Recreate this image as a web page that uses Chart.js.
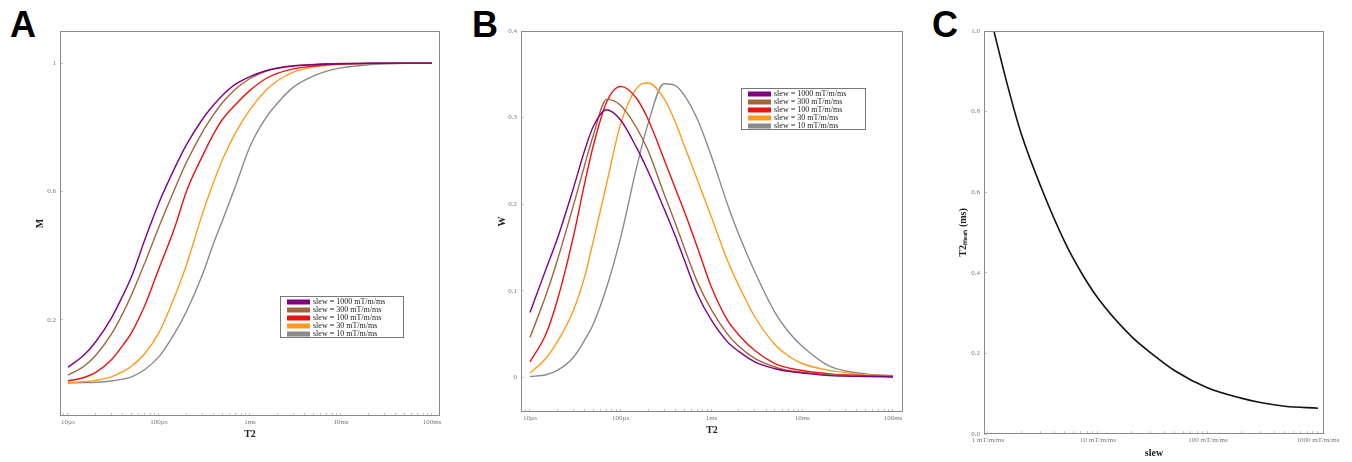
<!DOCTYPE html>
<html>
<head>
<meta charset="utf-8">
<script src="https://cdn.jsdelivr.net/npm/chart.js@4.4.1/dist/chart.umd.min.js"></script>
<style>
  body { margin: 0; background: #fff; width: 1352px; height: 462px; position: relative; overflow: hidden; }
  .painel { position: absolute; top: 0; }
  .letra { position: absolute; top: 7px; font: bold 36px 'Liberation Sans', Arial, sans-serif; line-height: 1; color: #000; }
</style>
</head>
<body>
<div class="letra" style="left:10px">A</div>
<div class="letra" style="left:472px">B</div>
<div class="letra" style="left:932px">C</div>
<canvas class="painel" id="graficoA" width="450" height="462" style="left:0"></canvas>
<canvas class="painel" id="graficoB" width="460" height="462" style="left:450px"></canvas>
<canvas class="painel" id="graficoC" width="442" height="462" style="left:910px"></canvas>
<script>
// Tempos T2 (ms) usados nos painéis A e B
const t2 = [0.01, 0.015, 0.02, 0.03, 0.04, 0.05, 0.07, 0.1, 0.15, 0.2, 0.3, 0.4, 0.5, 0.7, 1, 1.5, 2, 3, 5, 7, 10, 20, 50, 100];

// Rótulos das curvas
const rotulosSlew = ['slew = 1000 mT/m/ms', 'slew = 300 mT/m/ms', 'slew = 100 mT/m/ms', 'slew = 30 mT/m/ms', 'slew = 10 mT/m/ms'];
const cores = ['#800080', '#a0653a', '#ee1111', '#ff9a1a', '#8a8a8a'];

// Painel A: M
const m1000 = [0.052, 0.090, 0.130, 0.205, 0.275, 0.335, 0.45, 0.565, 0.675, 0.745, 0.825, 0.870, 0.900, 0.935, 0.958, 0.976, 0.984, 0.991, 0.995, 0.997, 0.998, 0.999, 1.0, 1.0];
const m300 = [0.027, 0.055, 0.088, 0.155, 0.22, 0.278, 0.378, 0.49, 0.61, 0.69, 0.785, 0.84, 0.877, 0.92, 0.952, 0.975, 0.985, 0.992, 0.996, 0.998, 0.999, 1.0, 1.0, 1.0];
const m100 = [0.009, 0.02, 0.035, 0.075, 0.12, 0.16, 0.245, 0.36, 0.49, 0.60, 0.71, 0.78, 0.825, 0.872, 0.915, 0.952, 0.968, 0.982, 0.991, 0.995, 0.997, 0.999, 1.0, 1.0];
const m30 = [0.004, 0.007, 0.011, 0.022, 0.038, 0.055, 0.095, 0.16, 0.275, 0.37, 0.53, 0.63, 0.70, 0.785, 0.855, 0.915, 0.945, 0.972, 0.988, 0.993, 0.996, 0.999, 1.0, 1.0];
const m10 = [0.003, 0.004, 0.005, 0.009, 0.015, 0.022, 0.045, 0.085, 0.16, 0.225, 0.34, 0.44, 0.51, 0.62, 0.74, 0.83, 0.875, 0.925, 0.96, 0.975, 0.985, 0.995, 0.999, 1.0];

// Painel B: W
const w1000 = [0.075, 0.125, 0.160, 0.218, 0.262, 0.290, 0.309, 0.297, 0.265, 0.238, 0.195, 0.163, 0.136, 0.096, 0.066, 0.041, 0.030, 0.018, 0.010, 0.007, 0.005, 0.002, 0.001, 0.0005];
const w300 = [0.046, 0.095, 0.135, 0.198, 0.245, 0.280, 0.321, 0.314, 0.288, 0.262, 0.212, 0.178, 0.150, 0.110, 0.078, 0.050, 0.036, 0.022, 0.012, 0.008, 0.006, 0.003, 0.0015, 0.001];
const w100 = [0.018, 0.050, 0.089, 0.162, 0.224, 0.268, 0.318, 0.336, 0.322, 0.298, 0.252, 0.218, 0.192, 0.150, 0.104, 0.066, 0.049, 0.031, 0.016, 0.011, 0.008, 0.004, 0.002, 0.001];
const w30 = [0.005, 0.022, 0.041, 0.077, 0.116, 0.158, 0.224, 0.293, 0.334, 0.340, 0.322, 0.295, 0.268, 0.228, 0.185, 0.135, 0.106, 0.070, 0.038, 0.025, 0.016, 0.008, 0.003, 0.001];
const w10 = [0.001, 0.003, 0.008, 0.023, 0.043, 0.062, 0.104, 0.162, 0.243, 0.293, 0.339, 0.337, 0.326, 0.298, 0.255, 0.200, 0.165, 0.122, 0.075, 0.053, 0.036, 0.013, 0.004, 0.002];

// Painel C: T2 em função do slew
const slew = [1, 1.5, 2, 3, 5, 7, 10, 20, 30, 50, 100, 200, 300, 500, 1000];
const t2Slew = [1.06, 0.867, 0.746, 0.616, 0.476, 0.402, 0.337, 0.243, 0.202, 0.157, 0.114, 0.089, 0.078, 0.069, 0.064];

// Marcas dos eixos
const ticksT2 = [0.01, 0.1, 1, 10, 100];
const rotulosT2 = ['10µs', '100µs', '1ms', '10ms', '100ms'];
const ticksSlew = [1, 10, 100, 1000];
const rotulosSlewEixo = ['1 mT/m/ms', '10 mT/m/ms', '100 mT/m/ms', '1000 mT/m/ms'];
const ticksM = [0.2, 0.6, 1];
const rotulosM = ['0.2', '0.6', '1'];
const ticksW = [0, 0.1, 0.2, 0.3, 0.4];
const rotulosW = ['0', '0.1', '0.2', '0.3', '0.4'];
const ticksC = [0, 0.2, 0.4, 0.6, 0.8, 1.0];
const rotulosC = ['0.0', '0.2', '0.4', '0.6', '0.8', '1.0'];

const serif = "'Liberation Serif', 'Times New Roman', serif";

// Moldura cinza em volta da área do gráfico
const molduraPlugin = {
    id: 'moldura',
    afterDraw(chart) {
        const { ctx, chartArea: a } = chart;
        ctx.save();
        ctx.strokeStyle = '#8a8a8a';
        ctx.lineWidth = 1;
        ctx.strokeRect(a.left + 0.5, a.top + 0.5, a.right - a.left - 1, a.bottom - a.top - 1);
        ctx.restore();
    }
};

// Legenda desenhada dentro da área do gráfico
const legendaPlugin = {
    id: 'legenda',
    afterDraw(chart, args, opts) {
        if (!opts.mostrar) return;
        const { ctx, chartArea: a } = chart;
        const x = a.left + opts.dx, y = a.top + opts.dy;
        ctx.save();
        ctx.fillStyle = '#fff';
        ctx.fillRect(x, y, opts.w, opts.h);
        ctx.strokeStyle = '#777';
        ctx.lineWidth = 1;
        ctx.strokeRect(x + 0.5, y + 0.5, opts.w, opts.h);
        ctx.font = '8px ' + serif;
        ctx.textBaseline = 'middle';
        chart.data.datasets.forEach((ds, i) => {
            const cy = y + 6 + i * 8;
            ctx.fillStyle = ds.borderColor;
            ctx.fillRect(x + 7, cy - 2.5, 23, 5);
            ctx.fillStyle = '#222';
            ctx.fillText(ds.label, x + 33, cy);
        });
        ctx.restore();
    }
};

function ticksLog(min, max) {
    const lista = [];
    for (let e = Math.floor(Math.log10(min)); e <= Math.ceil(Math.log10(max)); e++) {
        for (let m = 1; m <= 9; m++) {
            const v = m * Math.pow(10, e);
            if (v >= min && v <= max) lista.push(v);
        }
    }
    return lista;
}

function eixoX(min, max, valores, rotulos, titulo, altura) {
    return {
        type: 'logarithmic',
        min: min,
        max: max,
        afterBuildTicks: s => { s.ticks = ticksLog(min, max).map(v => ({ value: v })); },
        afterFit: s => { s.height = altura; },
        ticks: {
            autoSkip: false, maxRotation: 0, minRotation: 0, padding: 5,
            font: { family: serif, size: 7 }, color: '#777',
            callback: v => {
                const i = valores.findIndex(t => Math.abs(t - v) / t < 1e-6);
                return i >= 0 ? rotulos[i] : '';
            }
        },
        grid: { drawOnChartArea: false, drawTicks: true, tickLength: -3, color: '#c4c4c4' },
        border: { display: false },
        title: {
            display: true, text: titulo, color: '#222',
            font: { family: serif, size: 10, weight: 'bold' },
            padding: { top: 0, bottom: 2 }
        }
    };
}

function eixoY(min, max, valores, rotulos, titulo, largura) {
    return {
        type: 'linear',
        min: min,
        max: max,
        afterBuildTicks: s => { s.ticks = valores.map(v => ({ value: v })); },
        afterFit: s => { s.width = largura; },
        ticks: {
            autoSkip: false, padding: 7,
            font: { family: serif, size: 7 }, color: '#777',
            callback: (v, i) => rotulos[i]
        },
        grid: { drawOnChartArea: false, drawTicks: true, tickLength: -3, color: '#c4c4c4' },
        border: { display: false },
        title: {
            display: true, text: titulo, color: '#222',
            font: { family: serif, size: 10, weight: 'bold' },
            padding: { top: 4, bottom: 0 }
        }
    };
}

function serie(rotulo, cor, xs, ys, largura) {
    return {
        label: rotulo,
        data: xs.map((x, i) => ({ x: x, y: ys[i] })),
        borderColor: cor,
        backgroundColor: cor,
        borderWidth: largura,
        pointRadius: 0,
        fill: false,
        cubicInterpolationMode: 'monotone'
    };
}

function criarGrafico(id, datasets, escalas, padding, legenda) {
    return new Chart(document.getElementById(id).getContext('2d'), {
        type: 'line',
        data: { datasets: datasets },
        options: {
            responsive: false,
            animation: false,
            layout: { padding: padding },
            plugins: {
                legend: { display: false },
                tooltip: { enabled: false },
                legenda: legenda
            },
            scales: escalas
        },
        plugins: [molduraPlugin, legendaPlugin]
    });
}

// Painel A
const seriesM = [m1000, m300, m100, m30, m10];
const graficoA = criarGrafico('graficoA',
    seriesM.map((ys, i) => serie(rotulosSlew[i], cores[i], t2, ys, 1.4)),
    {
        x: eixoX(0.00817, 122.5, ticksT2, rotulosT2, 'T2', 26),
        y: eixoY(-0.1, 1.1, ticksM, rotulosM, 'M', 30)
    },
    { left: 30, top: 31, right: 10, bottom: 20 },
    { mostrar: true, dx: 220, dy: 265, w: 123, h: 41 }
);

// Painel B
const seriesW = [w1000, w300, w100, w30, w10];
const graficoB = criarGrafico('graficoB',
    seriesW.map((ys, i) => serie(rotulosSlew[i], cores[i], t2, ys, 1.4)),
    {
        x: eixoX(0.00796, 129, ticksT2, rotulosT2, 'T2', 26),
        y: eixoY(-0.04, 0.4, ticksW, rotulosW, 'W', 29)
    },
    { left: 42, top: 31, right: 7, bottom: 24 },
    { mostrar: true, dx: 220, dy: 57, w: 124, h: 41 }
);

// Painel C
const graficoC = criarGrafico('graficoC',
    [serie('T2', '#111', slew, t2Slew, 1.6)],
    {
        x: eixoX(0.92, 1135, ticksSlew, rotulosSlewEixo, 'slew', 27),
        y: eixoY(0, 1, ticksC, rotulosC, 'T2ₘₑₐₙ (ms)', 31)
    },
    { left: 43, top: 31, right: 28, bottom: 1 },
    { mostrar: false }
);
</script>
</body>
</html>
